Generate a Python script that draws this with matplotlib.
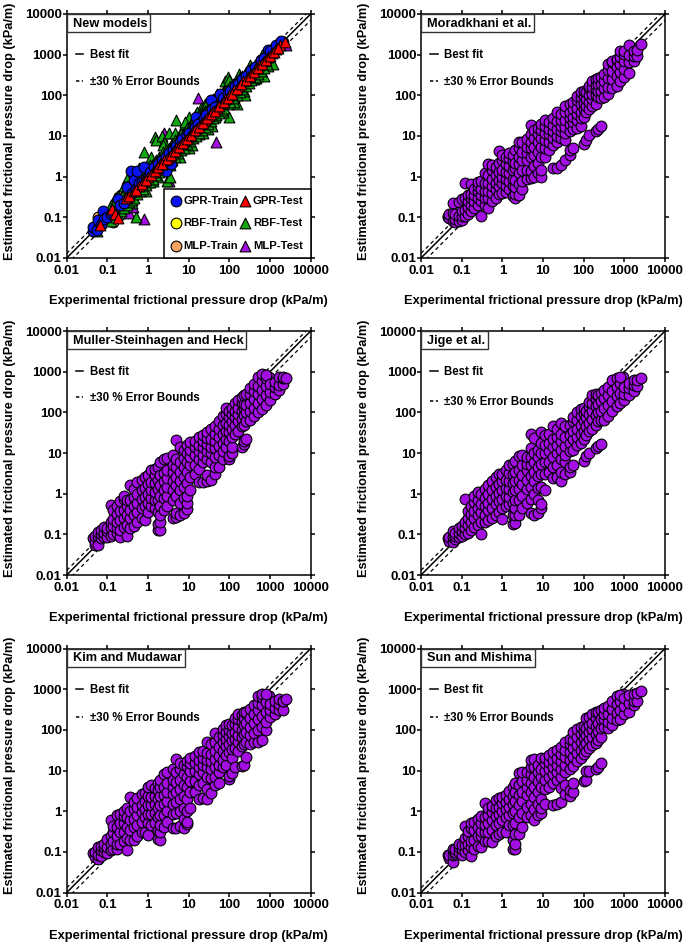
import numpy as np
from matplotlib import pyplot as plt
from matplotlib.lines import Line2D

plt.rcParams['font.family'] = ['Liberation Sans', 'DejaVu Sans']
plt.rcParams['font.weight'] = 'bold'

tick_vals = [0.01, 0.1, 1, 10, 100, 1000, 10000]
tick_text = ['0.01', '0.1', '1', '10', '100', '1000', '10000']

# experimental values, the correlations all share these
exp_x = [0.045, 0.05, 0.06, 0.07, 0.085, 0.1, 0.12, 0.14, 0.17, 0.2, 0.25, 0.3, 0.37, 0.45,
         0.55, 0.7, 0.85, 1, 1.2, 1.5, 1.8, 2, 2.5, 3, 4, 5, 6, 7.5, 9, 11, 14, 18, 22, 28,
         35, 45, 55, 70, 85, 100, 115, 135, 160, 200, 230, 260, 320, 400, 500, 650, 800,
         1000, 1300, 1700, 2100, 2500]

moradkhani = [
    [.10, .11], [.095, .12], [.08, .13, .23], [.075, .09, .12], [.08, .11, .24],
    [.085, .11, .14, .28], [.11, .15, .3, .7], [.12, .18, .25, .35], [.14, .2, .3, .38, .65],
    [.17, .25, .35, .5], [.2, .3, .45, .6, .75], [.11, .25, .35, .5, .8],
    [.2, .3, .45, .7, 1.2], [.17, .3, .45, .7, 1.1, 2.1], [.25, .4, .6, .9, 1.5, 1.9],
    [.3, .5, .7, 1.1, 1.7], [.38, .6, .85, 1.3, 2.2, 4.3], [.4, .7, 1, 1.5, 2.5, 3.5],
    [.42, .6, .9, 1.3, 2, 3], [.5, .8, 1.2, 1.8, 2.8, 3.8], [.33, .6, .9, 1.5, 2.3, 3.5],
    [.3, .38, .55, .85, 1.6, 2.2, 4.5], [.35, .65, 1.2, 2, 3, 5, 7], [.5, .8, 1.5, 2.5, 4, 7],
    [.9, 1.5, 2.5, 3.8, 5.5, 8.5], [.95, 1.4, 3, 5, 7, 11, 19], [1, 1.8, 3.5, 5.5, 9, 14],
    [1.2, 2.2, 4, 7, 11, 16], [1, 1.5, 3, 5.5, 9, 14, 20], [3, 5, 8, 12, 18, 25],
    [4.5, 7, 11, 15, 22], [1.6, 6, 9, 13, 19, 28], [1.65, 7, 10, 15, 24, 40],
    [1.9, 9, 13, 18, 25, 35], [2.6, 8, 12, 17, 25, 40, 55], [3.5, 4.5, 13, 20, 28, 40, 60],
    [5, 15, 22, 30, 45, 70], [16, 25, 35, 50, 75, 95], [18, 28, 40, 60, 90, 120],
    [6.5, 30, 45, 65, 95, 130], [8, 38, 55, 80, 120], [10.5, 45, 70, 100, 150, 170],
    [55, 80, 110, 160, 220], [13, 60, 100, 140, 180, 250], [15, 90, 130, 190, 260],
    [17.5, 85, 130, 190, 280], [90, 150, 230, 340], [110, 160, 260, 420, 600],
    [150, 250, 400, 650, 700], [170, 300, 500, 750, 800], [230, 380, 600, 900, 1200],
    [280, 450, 700, 1050, 1250], [350, 650, 1000, 1700], [700, 950, 1200], [950, 1300], [1800]]

muller = [
    [.08], [.055, .065, .09], [.055, .09, .115], [.08, .1, .13], [.085, .11, .155],
    [.085, .12, .14], [.09, .14, .2, .52], [.1, .16, .24, .4], [.11, .14, .2, .32, .5],
    [.085, .13, .22, .38, .65], [.15, .25, .4, .75, .9], [.09, .17, .3, .5, .7],
    [.14, .25, .4, .7, 1.6], [.16, .3, .5, .85, 1.3], [.2, .35, .6, 1, 1.9],
    [.25, .45, .75, 1.2, 2.2], [.22, .5, .85, 1.4, 2.6], [.35, .6, 1, 1.7, 2.8],
    [.5, .8, 1.2, 1.9, 3.8], [.45, .7, 1.1, 1.8, 2.8, 4], [.13, .18, .35, .7, 1.3, 2.2, 4.5],
    [.13, .2, .3, .5, .9, 1.6, 2.8, 6], [.4, .8, 1.2, 2, 3.3, 7], [.5, .9, 1.5, 2.4, 3.8, 7.5],
    [.25, .7, 1.2, 2, 3.5, 5, 9], [.27, .33, .9, 1.6, 2.5, 4.5, 7, 21],
    [.3, .6, 1.2, 2, 3.5, 6, 14], [.33, .8, 1.5, 2.5, 4.5, 7.5, 12],
    [.42, .6, .9, 1.8, 3.5, 6, 10, 16], [1.2, 2.5, 5, 8, 12, 19], [3, 5, 9, 14, 20],
    [1.9, 4, 7, 11, 16, 25], [1.95, 6, 9, 14, 20, 28], [2.1, 2.9, 7, 11, 17, 24, 32],
    [2.2, 6, 10, 14, 22, 38], [3, 4.5, 8, 13, 20, 30, 45], [4.5, 9, 15, 25, 38, 60],
    [7, 11, 18, 30, 48, 80], [14, 22, 35, 55, 90, 130], [7, 8.5, 20, 32, 50, 75, 110],
    [10, 14, 25, 40, 60, 90, 130], [30, 50, 75, 110, 170], [35, 60, 90, 130, 200],
    [14, 45, 70, 110, 170, 240], [17, 20, 50, 85, 130, 160, 260], [22, 60, 100, 150, 280],
    [65, 110, 170, 280, 400], [80, 130, 210, 330, 500], [100, 170, 280, 450, 750],
    [120, 210, 350, 600, 900], [150, 260, 450, 700, 850], [200, 320, 500], [280, 420, 550],
    [350, 480, 760], [500, 700, 750], [700]]

jige = [
    [.08], [.07, .085], [.065, .085, .12], [.075, .09, .11], [.085, .11, .145],
    [.09, .12, .16], [.1, .14, .2, .75], [.11, .17, .25, .38], [.13, .2, .32, .5],
    [.15, .25, .38, .62, .9], [.17, .3, .45, .7, 1.1], [.1, .2, .35, .55, 1],
    [.2, .3, .5, .8, 1.3], [.22, .4, .6, 1, 1.6], [.25, .45, .75, 1.2, 2],
    [.3, .55, .9, 1.5, 2.6], [.35, .65, 1.05, 1.7, 3], [.24, .45, .75, 1.2, 2, 3],
    [.5, .9, 1.4, 2.2, 3.8], [.55, .85, 1.3, 2, 3.2, 5], [.18, .3, .6, 1.1, 1.8, 3, 5.5],
    [.19, .3, .45, .7, 1.2, 2, 3.5, 6.5], [.3, .7, 1.3, 2.2, 3.8, 8.5], [.45, .9, 1.7, 2.8, 5, 9],
    [.6, 1.3, 2.2, 3.8, 5.5, 8], [.33, .75, 1.5, 2.7, 5, 8, 13, 30], [.3, 1, 2, 3.5, 6, 10, 24],
    [.33, .7, 1.4, 2.7, 4.5, 8, 12], [.45, .55, 1.5, 3, 5.5, 10, 18, 33], [1.2, 3, 6, 10, 16, 28],
    [3.5, 6, 11, 18, 30], [2.4, 4.5, 8, 14, 22, 45], [2.5, 5, 10, 16, 25, 40],
    [2.1, 3.5, 7, 12, 20, 30, 55], [3, 6, 9, 15, 25, 45], [3.5, 4.5, 11, 18, 28, 50],
    [5, 12, 22, 35, 60, 75], [16, 25, 40, 65, 100], [18, 30, 50, 80, 120],
    [6.5, 22, 35, 60, 95, 130], [8.5, 28, 45, 75, 110], [10, 35, 55, 90, 140, 180],
    [40, 70, 110, 170, 260], [13, 50, 85, 140, 210, 280], [15, 60, 100, 160, 260],
    [17, 65, 110, 190, 300], [65, 130, 220, 350], [80, 150, 260, 420], [110, 190, 330, 620],
    [140, 250, 430, 700], [170, 300, 520, 750], [200, 290, 420], [260, 400, 520],
    [330, 480, 620], [450, 620], [680]]

kim = [
    [.095], [.075, .1], [.065, .085, .13], [.08, .11, .14], [.1, .13, .16],
    [.095, .13, .21], [.11, .16, .25, .6], [.12, .18, .3, .42], [.12, .16, .25, .4, .8],
    [.16, .3, .5, .85], [.18, .3, .5, .75, 1], [.11, .22, .4, .7, 1.2],
    [.2, .35, .6, 1, 2.2], [.19, .4, .65, 1.1, 1.7], [.25, .45, .8, 1.3, 2.1],
    [.3, .55, .95, 1.4, 2.7], [.3, .7, 1.1, 1.8, 2.8], [.26, .5, .85, 1.4, 2.3, 4],
    [.45, .85, 1.4, 2.2, 4.5], [.5, .9, 1.5, 2.4, 3.8], [.21, .35, .7, 1.2, 2, 3.3, 5],
    [.2, .3, .45, .8, 1.4, 2.4, 4, 6], [.4, .8, 1.5, 2.5, 4, 8], [.55, 1, 1.8, 2.9, 5, 9],
    [.38, .85, 1.5, 2.6, 4, 6, 11], [.38, .9, 1.7, 3, 5.3, 9, 19], [.42, 1, 2, 3.5, 6, 11, 15],
    [.38, .65, 1.2, 2.4, 4.5, 8, 14], [.48, .55, 1, 2, 4, 7, 13, 17], [1.2, 3, 5.5, 10, 15, 20],
    [3, 5.5, 10, 15, 23], [2, 4.5, 8, 12, 18, 28], [2.1, 5, 9, 14, 20, 30],
    [2, 3.5, 7, 12, 18, 27, 50], [2.8, 6.5, 11, 17, 26, 45], [4.5, 7, 12, 19, 30, 50, 85],
    [4.8, 9, 14, 23, 38, 65], [12, 18, 30, 50, 75, 105], [14, 24, 40, 60, 90, 130],
    [6.3, 7.5, 28, 45, 70, 100, 140], [8.5, 20, 33, 55, 85, 130], [12, 36, 60, 90, 140, 190],
    [30, 50, 75, 120, 180, 240], [13, 40, 65, 100, 160, 230], [14, 45, 80, 130, 200, 280],
    [21, 50, 90, 150, 270], [45, 75, 120, 200, 320], [50, 85, 150, 250, 400],
    [50, 100, 180, 300, 450, 680], [55, 120, 220, 400, 650, 760], [100, 160, 280, 480, 780],
    [210, 300, 440], [250, 340, 500], [310, 430, 560], [310, 500, 520], [570]]

sun = [
    [.085], [.07, .085], [.055, .085, .12], [.09, .1, .12], [.1, .13, .155],
    [.085, .12, .15], [.1, .15, .22, .42], [.11, .16, .25, .33], [.08, .13, .18, .38, .5],
    [.12, .2, .35, .55], [.14, .25, .4, .65], [.13, .25, .33, .5, .75],
    [.18, .3, .45, .7, 1.6], [.18, .3, .5, .8, 1.2], [.17, .35, .6, .95, 1.35],
    [.25, .45, .75, 1.2, 1.9], [.27, .5, .85, 1.3, 2.1], [.3, .6, 1, 1.6, 2.2],
    [.3, .7, 1.1, 1.7, 2.5], [.45, .8, 1.3, 2, 3.2], [.12, .2, .45, .9, 1.5, 2.4, 4],
    [.12, .16, .27, .5, 1, 1.8, 3, 5], [.28, .7, 1.4, 2.5, 4.5, 8.5], [.4, .9, 1.8, 3, 5.5, 9],
    [.7, 1.3, 2.5, 4, 6, 9], [.8, 1.5, 3, 5, 8, 12, 18], [.6, 1.1, 2.2, 4, 7, 12, 19],
    [.8, 1.5, 3, 5.5, 9, 14], [.9, 1.2, 2, 4, 7, 11, 20], [1.5, 3.5, 6, 10, 15, 20],
    [4, 7, 11, 16, 24], [1.4, 5, 8, 12, 18, 28], [1.5, 6, 9, 14, 20, 32],
    [1.7, 3.8, 7, 11, 17, 25, 38], [2.7, 4.5, 9, 14, 22, 32, 50], [2.3, 3.3, 11, 18, 28, 45, 60],
    [3, 5, 13, 22, 35, 55, 90], [17, 27, 42, 65, 105], [20, 32, 50, 80, 120],
    [5.5, 26, 40, 62, 95, 125], [6, 9.5, 30, 48, 75, 110, 190], [9.5, 36, 58, 90, 130, 210],
    [42, 68, 105, 150, 240], [11, 48, 80, 125, 190, 280], [12, 55, 95, 150, 270],
    [15, 65, 110, 180, 300], [115, 180, 250, 350], [110, 160, 250, 380], [130, 200, 320, 510],
    [170, 260, 420, 680], [180, 300, 500, 720], [250, 380, 600], [280, 450, 700],
    [400, 520, 780], [520, 800], [900]]

# the dark packed ridge running through each cloud
ridge_x = [.3, .36, .43, .5, .6, .72, .85, 1, 1.2, 1.45, 1.7, 2, 2.4, 2.9, 3.5, 4.2, 5, 6, 7.2, 8.6, 10, 12, 14.5,
           17, 21, 25, 30, 36, 43, 52, 62, 75, 90, 110, 130, 155, 185, 220, 265, 320, 380, 460, 550, 660, 790, 950]
ridge_moradkhani = [.29, .33, .4, .45, .52, .6, .72, .85, 1, 1.2, 1.4, 1.7, 2, 2.5, 3, 3.6, 4.4, 5, 6.2, 7.2, 8.5, 10,
                    12.5, 14.5, 18, 21, 25, 31, 37, 44, 52, 65, 76, 92, 110, 135, 155, 190, 230, 270, 330, 400, 470,
                    560, 680, 810]
ridge_muller = [.26, .3, .36, .4, .47, .56, .66, .78, .9, 1.1, 1.3, 1.5, 1.8, 2.2, 2.7, 3.2, 3.8, 4.6, 5.5, 6.5, 7.6, 9,
                11, 13, 16, 19, 23, 28, 33, 40, 47, 57, 68, 84, 100, 118, 140, 170, 200, 245, 290, 350, 420, 500,
                600, 720]
ridge_jige = [.27, .32, .38, .42, .5, .6, .7, .82, .96, 1.15, 1.35, 1.6, 1.9, 2.3, 2.8, 3.4, 4, 4.8, 5.8, 6.9, 8, 9.6,
              11.6, 13.6, 17, 20, 24, 29, 34, 41, 50, 60, 72, 88, 105, 124, 148, 176, 212, 256, 304, 368, 440, 530,
              630, 760]
ridge_kim = [.25, .29, .34, .39, .46, .54, .63, .74, .88, 1.05, 1.25, 1.45, 1.75, 2.1, 2.5, 3, 3.6, 4.4, 5.2, 6.2, 7.2,
             8.7, 10.5, 12.5, 15, 18, 22, 26, 31, 37, 45, 54, 65, 80, 94, 112, 135, 160, 190, 230, 275, 330, 400,
             480, 570, 680]
ridge_sun = [.28, .33, .38, .44, .52, .6, .72, .85, 1, 1.2, 1.4, 1.65, 2, 2.4, 2.9, 3.5, 4.1, 5, 6, 7.1, 8.3, 10, 12, 14,
             17.5, 21, 25, 30, 36, 43, 51, 62, 74, 90, 107, 127, 152, 180, 217, 262, 312, 377, 450, 540, 650, 780]

# new models panel
gpr_train_x = [.045, .045, .055, .06, .07, .08, .085, .1, .12, .14, .18, .2, .25, .3, .32, .38, .4, .45,
               .5, .55, .6, .7, .8, .9, 1, 1.2, 1.5, 2, 2.8, 3.7, 5, 8, 12, 15.4, 20, 30, 35, 50, 60,
               80, 120, 180, 300, 500, 600, 800, 900, 1000, 1200, 1600, 2100,
               1.1, 1.4, 1.8, 2.2, 2.7, 3.3, 4, 4.8, 6, 7, 9, 10, 14, 17, 24, 27, 38, 45, 70, 95,
               105, 140, 160, 210, 250, 350, 420, 600, 700, 1000, 1400, 1900]
gpr_train_y = [.045, .058, .05, .085, .065, .14, .09, .1, .12, .13, .28, .2, .23, .55, .3, 1.4, .4, .85,
               .5, 1.35, .7, .75, 1.75, .9, 1, 1.2, 1.5, 2, 1.4, 2.1, 5, 8.5, 13, 29, 22, 32, 75, 55, 110,
               85, 125, 190, 300, 520, 750, 850, 1300, 1100, 1400, 1700, 2100,
               1.3, 1.7, 2.1, 2.6, 3.1, 3.9, 4.6, 5.6, 7, 8.3, 10.5, 12, 17, 20, 28, 32, 45, 53, 85, 115,
               125, 170, 195, 250, 300, 420, 500, 720, 850, 1250, 1700, 2200]
gpr_test_x = [.065, .13, .15, .18, .28, .35, .45, .6, .8, 1, 1.3, 1.6, 2, 2.5, 3.2, 4, 5, 6.5, 8, 10, 13,
              16, 20, 25, 32, 40, 50, 65, 80, 100, 130, 170, 220, 280, 350, 450, 550, 700, 900, 1100,
              1400, 1800, 2400,
              .5, .7, .9, 1.15, 1.45, 1.8, 2.25, 2.85, 3.6, 4.5, 5.7, 7.2, 9, 11.5, 14.5, 18, 22.5, 28.5, 36, 45,
              57, 72, 90, 115, 150, 195, 250, 315, 400, 500, 620, 800, 1000, 1250, 1600]
gpr_test_y = [.065, .16, .12, .095, .3, .33, .45, .6, .78, 1, 1.3, 1.55, 2, 2.5, 3.1, 4, 5.2, 6.3, 8.2, 10,
              13, 15.5, 20, 25, 31, 41, 50, 63, 82, 100, 135, 165, 220, 280, 340, 460, 550, 680, 880, 1100,
              1350, 1750, 2050,
              .47, .66, .85, 1.1, 1.35, 1.7, 2.1, 2.7, 3.4, 4.2, 5.4, 6.8, 8.5, 10.8, 13.7, 17, 21, 27, 34, 42,
              54, 68, 85, 108, 140, 185, 235, 300, 380, 470, 590, 750, 940, 1180, 1500]
rbf_test_x = [.055, .15, .3, .3, .5, .8, 1, 1.3, 1.5, 1.6, 2.2, 2.5, 3, 3.2, 3.5, 5, 8, 10, 10, 15, 20, 25,
              30, 35, 40, 50, 60, 60, 80, 90, 100, 100, 150, 200, 240, 300, 400, 500, 700, 1200, 4, 6,
              12, 18, 28, 45, 70, 130, 170, 260]
rbf_test_y = [.045, .3, .9, .6, .1, 4, .75, .8, 9.5, 8, 10, 7, .8, 12, 1, 25, 20, 30, 5, 35, 50, 60,
              15, 20, 80, 100, 70, 50, 220, 280, 30, 180, 60, 270, 100, 280, 250, 300, 300, 600, 7, 11,
              22, 11, 50, 30, 120, 90, 250, 380]
rbf_band_x = [.12, .15, .18, .22, .25, .3, .35, .4, .45, .55, .65, .75, .9, 1.1, 1.3, 1.6, 1.9, 2.3, 2.7, 3.2, 3.8, 4.5,
              5.5, 6.5, 7.5, 9, 11, 13, 15, 18, 21, 25, 30, 35, 40, 48, 55, 65, 75, 90, 105, 125, 150, 180, 210, 250,
              300, 350, 420, 500, 600, 700, 850]
rbf_high_y = [.2, .25, .33, .3, .42, .55, .5, .7, .75, .9, 1, 1.2, 1.5, 1.9, 2, 2.6, 3, 4, 4.5, 5, 6.5, 8, 9, 11, 12,
              16, 18, 22, 25, 32, 34, 42, 50, 55, 70, 80, 85, 100, 120, 140, 170, 190, 230, 280, 300, 360, 420,
              480, 560, 650, 800, 900, 1100]
rbf_low_y = [.08, .1, .12, .14, .17, .2, .24, .27, .3, .38, .45, .5, .62, .75, .9, 1.1, 1.3, 1.6, 1.8, 2.2, 2.6, 3.1,
             3.8, 4.4, 5, 6.2, 7.5, 9, 10, 12, 14, 17, 20, 24, 27, 32, 37, 44, 50, 60, 70, 85, 100, 120, 145, 170,
             200, 240, 290, 340, 400, 480, 580]
rbf_outer_x = [.25, .4, .6, .9, 1.2, 1.8, 2.4, 3.5, 4.5, 6, 8, 12, 16, 22, 28, 38, 50, 70, 100, 130, 170, 230, 320,
               450, 650, 900]
rbf_outer_y = [.6, .22, 1.6, .45, 3, 1, 6, 1.9, 12, 3, 22, 6, 40, 12, 65, 18, 110, 38, 240, 70, 330, 130, 550, 260,
               1000, 520]
mlp_test_x = [.35, .42, .8, 2.5, 3.3, 17, 47, 2500]
mlp_test_y = [.13, .18, .09, 12, .8, 85, 7, 1700]
rbf_train_x = [.1, .5, 5, 50, 500]
rbf_train_y = [.1, .5, 5, 50, 500]
mlp_train_x = [.06, .14, .22, .35, 30]
mlp_train_y = [.1, .075, .35, .55, 55]

panel_names = ['New models', 'Moradkhani et al.', 'Muller-Steinhagen and Heck',
               'Jige et al.', 'Kim and Mudawar', 'Sun and Mishima']
panel_data = [None, moradkhani, muller, jige, kim, sun]
panel_ridge = [None, ridge_moradkhani, ridge_muller, ridge_jige, ridge_kim, ridge_sun]
key_gap = [1.3, 1.3, 1.2, 1.56, 1.4, 1.4]

W, H = 685, 943
lefts = [66.7, 421]
tops = [14, 331, 648.5]
side_w, side_h = 244, 244

purple = '#A30FE2'
green = '#12A812'
fig = plt.figure(figsize=(W / 100, H / 100), dpi=100)


def framed(ax):
    ax.set_xscale('log')
    ax.set_yscale('log')
    ax.set_xlim(0.01, 10000)
    ax.set_ylim(0.01, 10000)
    ax.set_xticks(tick_vals, tick_text)
    ax.set_yticks(tick_vals, tick_text)
    ax.minorticks_off()
    ax.tick_params(which='major', direction='out', length=3, width=1.1, top=True, right=True,
                   labelsize=9.5)
    ax.tick_params(axis='x', pad=2)
    ax.tick_params(axis='y', pad=0.5)
    for s in ax.spines.values():
        s.set_linewidth(1.1)
    line = np.array([0.01, 10000])
    ax.plot(line, line, color='k', lw=1.1, zorder=1)
    ax.plot(line, line * 1.3, color='k', lw=0.9, ls=(0, (3, 2.5)), zorder=1)
    ax.plot(line, line * 0.7, color='k', lw=0.9, ls=(0, (3, 2.5)), zorder=1)
    ax.set_xlabel('Experimental frictional pressure drop (kPa/m)', fontsize=9.25, fontweight='bold')
    ax.set_ylabel('Estimated frictional pressure drop (kPa/m)', fontsize=9.15, fontweight='bold')
    ax.xaxis.set_label_coords(0.5, -0.152)
    ax.yaxis.set_label_coords(-0.208, 0.52)


for i in range(6):
    row, col = i // 2, i % 2
    ax = fig.add_axes([lefts[col] / W, 1 - (tops[row] + side_h) / H, side_w / W, side_h / H])
    framed(ax)
    kw = dict(s=60, edgecolors='k', linewidths=0.8, zorder=2)
    if i == 0:
        h_mt = ax.scatter(mlp_train_x, mlp_train_y, c='#F4A460', marker='o', **kw)
        h_rt = ax.scatter(rbf_train_x, rbf_train_y, c='#FFFF00', marker='o', **kw)
        h_mp = ax.scatter(mlp_test_x, mlp_test_y, c=purple, marker='^', **kw)
        h_rp = ax.scatter(rbf_test_x, rbf_test_y, c=green, marker='^', **kw)
        ax.scatter(rbf_outer_x, rbf_outer_y, c=green, marker='^', **kw)
        ax.scatter(rbf_band_x, rbf_high_y, c=green, marker='^', **kw)
        ax.scatter(rbf_band_x, rbf_low_y, c=green, marker='^', **kw)
        h_gt = ax.scatter(gpr_train_x, gpr_train_y, c='#0A14F0', marker='o', **kw)
        h_gp = ax.scatter(gpr_test_x, gpr_test_y, c='#FF0000', marker='^', **kw)
        series_key = ax.legend([h_gt, h_rt, h_mt, h_gp, h_rp, h_mp],
                               ['GPR-Train', 'RBF-Train', 'MLP-Train', 'GPR-Test', 'RBF-Test', 'MLP-Test'],
                               ncol=2, loc='lower right', borderaxespad=0, fancybox=False, framealpha=1,
                               edgecolor='k', fontsize=8.1, labelspacing=1.1, columnspacing=0.2,
                               handlelength=0.8, handletextpad=0.25, borderpad=0.65)
        series_key.get_frame().set_linewidth(1.1)
        ax.add_artist(series_key)
    else:
        ax.scatter(ridge_x, panel_ridge[i], c=purple, marker='o', **kw)
        ys = panel_data[i]
        x = np.repeat(exp_x, [len(r) for r in ys])
        y = np.concatenate(ys)
        ax.scatter(x, y, c=purple, marker='o', **kw)
    txt = ax.text(0.025, 0.96, panel_names[i], transform=ax.transAxes, fontsize=9.2, fontweight='bold',
                  ha='left', va='center', zorder=6)
    # the white label box sits flush in the top left corner
    fig.canvas.draw()
    bb = txt.get_window_extent().transformed(ax.transAxes.inverted())
    ax.add_patch(plt.Rectangle((0, 0.925), bb.x1 + 0.012, 0.075, transform=ax.transAxes, fc='white',
                               ec='#333333', lw=1, zorder=5))
    handles = [Line2D([], [], color='k', lw=1.1),
               Line2D([], [], color='k', lw=1.1, ls=(0, (2.2, 1.6)))]
    ax.legend(handles, ['Best fit', '±30 % Error Bounds'], loc='upper left', bbox_to_anchor=(0.038, 0.856),
              frameon=False, fontsize=8.3, labelspacing=key_gap[i], handlelength=0.65, handletextpad=0.55,
              borderaxespad=0, borderpad=0)

fig.savefig('out.png', dpi=100)
